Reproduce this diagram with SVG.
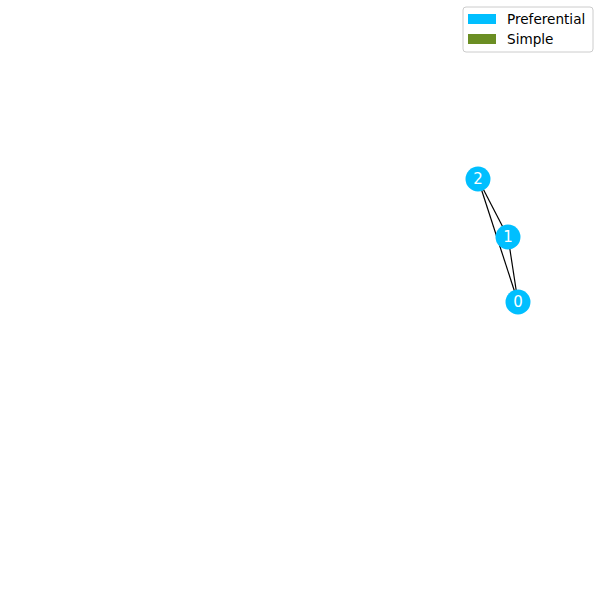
<svg xmlns="http://www.w3.org/2000/svg" width="600" height="600" viewBox="0 0 600 600">
<style>
.edge{stroke:#000;stroke-width:1.2;fill:none}
.node circle{fill:#00bfff}
.node text{font-family:"DejaVu Sans",sans-serif;font-size:15px;fill:#fff;text-anchor:middle;dominant-baseline:central}
.leg{font-family:"DejaVu Sans",sans-serif;font-size:13.6px;fill:#000}
</style>
<rect width="600" height="600" fill="#fff"/>
<g id="connectors">
<line class="edge" x1="478" y1="179" x2="508" y2="237"/>
<line class="edge" x1="478" y1="179" x2="518" y2="302"/>
<line class="edge" x1="508" y1="237" x2="518" y2="302"/>
</g>
<g id="node2" class="node"><circle cx="478" cy="179" r="12.5"/><text x="478" y="179">2</text></g>
<g id="node1" class="node"><circle cx="508" cy="237" r="12.5"/><text x="508" y="237">1</text></g>
<g id="node0" class="node"><circle cx="518" cy="302" r="12.5"/><text x="518" y="302">0</text></g>
<g id="legend">
<rect x="463" y="7" width="130" height="45" rx="3" fill="#fff" fill-opacity="0.8" stroke="#ccc"/>
<rect x="468" y="14" width="28" height="10" fill="#00bfff"/>
<text class="leg" x="507" y="24">Preferential</text>
<rect x="468" y="34" width="28" height="10" fill="#6b8e23"/>
<text class="leg" x="507" y="44">Simple</text>
</g>
</svg>
